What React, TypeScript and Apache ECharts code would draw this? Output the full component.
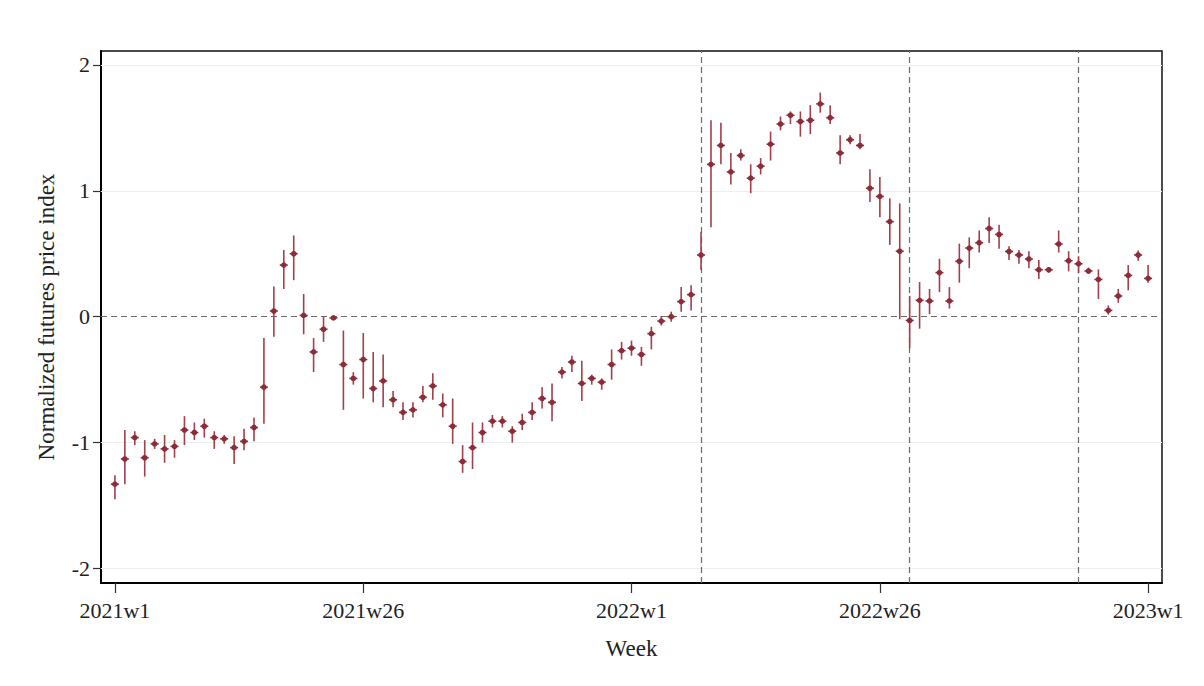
import React, { useEffect, useRef } from "react";
import * as echarts from "echarts";

const weeks: string[] = [];
for (let y = 2021; y <= 2022; y++) for (let w = 1; w <= 52; w++) weeks.push(`${y}w${w}`);
weeks.push("2023w1");

const estimate = [
  -1.33, -1.13, -0.96, -1.12, -1.01, -1.05, -1.03, -0.90, -0.92, -0.87,
  -0.96, -0.97, -1.04, -0.99, -0.88, -0.56, 0.045, 0.41, 0.50, 0.01,
  -0.28, -0.10, -0.01, -0.38, -0.49, -0.34, -0.57, -0.51, -0.66, -0.76,
  -0.74, -0.64, -0.55, -0.70, -0.87, -1.15, -1.04, -0.92, -0.83, -0.83,
  -0.91, -0.84, -0.76, -0.65, -0.68, -0.44, -0.36, -0.53, -0.49, -0.52,
  -0.38, -0.27, -0.25, -0.30, -0.135, -0.035, 0.0, 0.12, 0.175, 0.49,
  1.21, 1.36, 1.15, 1.28, 1.10, 1.195, 1.37, 1.53, 1.60, 1.55,
  1.56, 1.69, 1.58, 1.30, 1.405, 1.36, 1.02, 0.955, 0.755, 0.52,
  -0.03, 0.13, 0.125, 0.35, 0.125, 0.44, 0.545, 0.587, 0.70, 0.653,
  0.518, 0.49, 0.458, 0.373, 0.373, 0.577, 0.444, 0.42, 0.363, 0.296,
  0.05, 0.164, 0.328, 0.49, 0.304,
];
const lower = [
  -1.45, -1.33, -1.02, -1.27, -1.05, -1.16, -1.12, -1.02, -0.98, -0.96,
  -1.05, -1.01, -1.17, -1.06, -0.99, -0.85, -0.16, 0.22, 0.29, -0.14,
  -0.44, -0.20, -0.02, -0.74, -0.54, -0.65, -0.68, -0.72, -0.72, -0.82,
  -0.80, -0.68, -0.66, -0.80, -1.01, -1.24, -1.21, -1.00, -0.88, -0.88,
  -1.00, -0.90, -0.82, -0.73, -0.83, -0.49, -0.44, -0.67, -0.54, -0.58,
  -0.50, -0.34, -0.31, -0.39, -0.26, -0.07, -0.04, 0.04, 0.05, 0.37,
  0.71, 1.21, 1.05, 1.24, 0.98, 1.13, 1.24, 1.48, 1.53, 1.43,
  1.45, 1.62, 1.53, 1.21, 1.37, 1.33, 0.91, 0.79, 0.57, -0.02,
  -0.25, -0.095, 0.02, 0.195, 0.065, 0.27, 0.385, 0.51, 0.585, 0.54,
  0.45, 0.42, 0.385, 0.30, 0.35, 0.51, 0.36, 0.344, 0.34, 0.14,
  0.016, 0.11, 0.21, 0.444, 0.27,
];
const upper = [
  -1.26, -0.90, -0.91, -0.98, -0.97, -0.94, -0.98, -0.79, -0.84, -0.81,
  -0.91, -0.94, -0.95, -0.89, -0.80, -0.17, 0.24, 0.53, 0.645, 0.18,
  -0.17, 0.0, 0.0, -0.11, -0.44, -0.13, -0.28, -0.30, -0.59, -0.68,
  -0.68, -0.55, -0.45, -0.61, -0.65, -1.02, -0.84, -0.84, -0.78, -0.79,
  -0.87, -0.77, -0.68, -0.56, -0.53, -0.40, -0.31, -0.35, -0.46, -0.49,
  -0.26, -0.20, -0.19, -0.24, -0.08, 0.005, 0.04, 0.235, 0.25, 0.675,
  1.56, 1.54, 1.30, 1.33, 1.21, 1.26, 1.47, 1.59, 1.63, 1.63,
  1.68, 1.78, 1.68, 1.44, 1.44, 1.45, 1.17, 1.11, 0.94, 0.90,
  0.165, 0.275, 0.22, 0.46, 0.235, 0.58, 0.63, 0.685, 0.79, 0.73,
  0.56, 0.53, 0.52, 0.45, 0.39, 0.685, 0.52, 0.48, 0.39, 0.375,
  0.09, 0.22, 0.41, 0.526, 0.41,
];

const xTickLabels = ["2021w1", "2021w26", "2022w1", "2022w26", "2023w1"];
const yTickValues = [-2, -1, 0, 1, 2];
const eventWeeks = ["2022w8", "2022w29", "2022w46"];

const idx = (w: string) => weeks.indexOf(w);

export default function App() {
  const ref = useRef<HTMLDivElement>(null);
  useEffect(() => {
    document.body.style.margin = "0";
    const chart = echarts.init(ref.current!, null, { renderer: "svg" });
    const serif = "'Liberation Serif', 'DejaVu Serif', serif";
    const color = "#8b2c38";
    const data = estimate.map((v, i) => [i, v, lower[i], upper[i]]);
    chart.setOption({
      animation: false,
      backgroundColor: "#ffffff",
      grid: {
        left: 101,
        right: 42,
        top: 51,
        bottom: 103,
        show: true,
        borderColor: "#111",
        borderWidth: 1.5,
      },
      xAxis: {
        type: "value",
        min: -1.4,
        max: 105.4,
        name: "Week",
        nameLocation: "middle",
        nameGap: 54,
        nameTextStyle: { fontFamily: serif, fontSize: 23, color: "#222" },
        axisLine: { show: true, onZero: false, lineStyle: { color: "#000", width: 2 } },
        axisTick: {
          show: true,
          length: 10,
          customValues: xTickLabels.map(idx),
          lineStyle: { color: "#333", width: 1.2 },
        },
        axisLabel: {
          customValues: xTickLabels.map(idx),
          formatter: (v: number) => weeks[Math.round(v)] ?? "",
          fontFamily: serif,
          fontSize: 22,
          color: "#222",
          margin: 16,
        },
        splitLine: { show: false },
      },
      yAxis: {
        type: "value",
        min: -2.115,
        max: 2.11,
        name: "Normalized futures price index",
        nameLocation: "middle",
        nameGap: 43,
        nameTextStyle: { fontFamily: serif, fontSize: 23, color: "#222" },
        axisLine: { show: true, onZero: false, lineStyle: { color: "#000", width: 2 } },
        axisTick: {
          show: true,
          length: 8,
          customValues: yTickValues,
          lineStyle: { color: "#333", width: 1.2 },
        },
        axisLabel: {
          customValues: yTickValues,
          formatter: (v: number) => String(Math.round(v)),
          fontFamily: serif,
          fontSize: 22,
          color: "#222",
          margin: 11,
        },
        splitLine: { show: false },
      },
      series: [
        {
          type: "line",
          data: [],
          silent: true,
          z: 1,
          markLine: {
            silent: true,
            symbol: "none",
            label: { show: false },
            lineStyle: { color: "#e8f0f0", width: 1, type: "solid" },
            data: yTickValues.filter((v) => v !== 0).map((v) => ({ yAxis: v })),
          },
        },
        {
          type: "line",
          data: [],
          silent: true,
          z: 2,
          markLine: {
            silent: true,
            symbol: "none",
            label: { show: false },
            lineStyle: { color: "#6a6a6a", width: 1.2, type: [6, 4] },
            data: [
              { yAxis: 0 },
              ...eventWeeks.map((w) => ({ xAxis: idx(w) })),
            ],
          },
        },
        {
          type: "custom",
          z: 5,
          data,
          renderItem: (params: any, api: any) => {
            const x = api.value(0);
            const p = api.coord([x, api.value(1)]);
            const lo = api.coord([x, api.value(2)]);
            const hi = api.coord([x, api.value(3)]);
            return {
              type: "group",
              children: [
                {
                  type: "line",
                  shape: { x1: lo[0], y1: lo[1], x2: hi[0], y2: hi[1] },
                  style: { stroke: "#a0404b", lineWidth: 1.6 },
                },
                {
                  type: "line",
                  shape: { x1: p[0] - 4, y1: p[1], x2: p[0] + 4, y2: p[1] },
                  style: { stroke: color, lineWidth: 1.6 },
                },
                {
                  type: "circle",
                  shape: { cx: p[0], cy: p[1], r: 2.8 },
                  style: { fill: color },
                },
              ],
            };
          },
        },
      ],
    });
    return () => chart.dispose();
  }, []);
  return (
    <div
      ref={ref}
      style={{ position: "absolute", left: 0, top: 0, width: 1204, height: 686 }}
    />
  );
}
